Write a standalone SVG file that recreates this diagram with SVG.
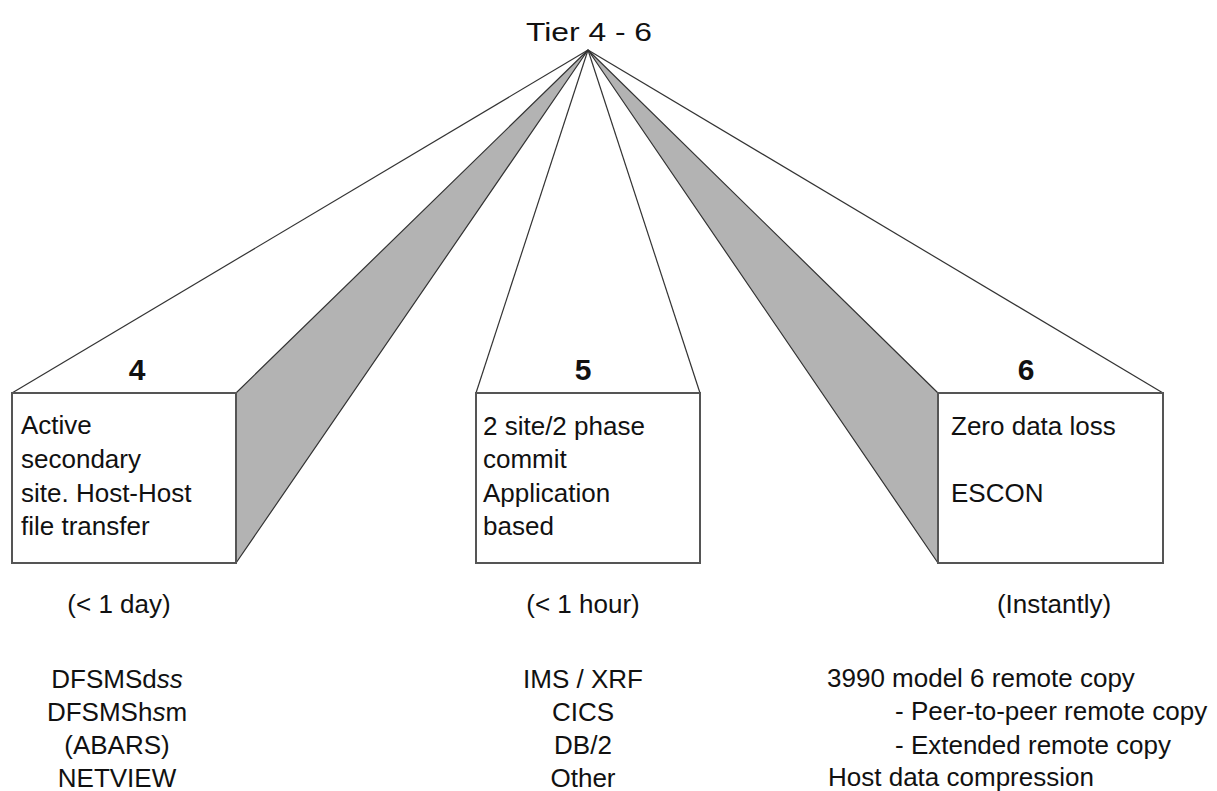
<svg xmlns="http://www.w3.org/2000/svg" width="1217" height="791" viewBox="0 0 1217 791">
<style>
.t{font-family:"Liberation Sans",Arial,sans-serif;font-size:26px;fill:#111}
.num{font-family:"Liberation Sans",Arial,sans-serif;font-size:30px;font-weight:bold;fill:#111;text-anchor:middle}
.c{text-anchor:middle}
.line{stroke:#333;stroke-width:1.2;fill:none}
.side{fill:#b3b3b3;stroke:#333;stroke-width:1.2;stroke-linejoin:round}
.box{fill:#fff;stroke:#555;stroke-width:2}
</style>
<rect width="1217" height="791" fill="#fff"/>
<g id="title">
<text class="t" x="526" y="41" font-size="37" textLength="126" lengthAdjust="spacingAndGlyphs">Tier 4 - 6</text>
</g>
<g id="connectors">
<polygon class="side" points="588,50 236,393 236,563"/>
<polygon class="side" points="588,50 938,393 938,563"/>
<line class="line" x1="588" y1="50" x2="12" y2="393"/>
<line class="line" x1="588" y1="50" x2="476" y2="393"/>
<line class="line" x1="588" y1="50" x2="700" y2="393"/>
<line class="line" x1="588" y1="50" x2="1163" y2="393"/>
</g>
<g id="tier4">
<text class="num" x="137" y="380">4</text>
<rect class="box" x="12" y="393" width="224" height="170"/>
<text class="t" x="21" y="434">Active</text>
<text class="t" x="21" y="468">secondary</text>
<text class="t" x="21" y="502">site. Host-Host</text>
<text class="t" x="21" y="535">file transfer</text>
<text class="t c" x="119" y="613">(&lt; 1 day)</text>
<text class="t c" x="117" y="688">DFSMSd<tspan font-style="italic">ss</tspan></text>
<text class="t c" x="117" y="721">DFSMSh<tspan font-style="italic">s</tspan>m</text>
<text class="t c" x="117" y="754">(ABARS)</text>
<text class="t c" x="117" y="787">NETVIEW</text>
</g>
<g id="tier5">
<text class="num" x="583" y="380">5</text>
<rect class="box" x="476" y="393" width="224" height="170"/>
<text class="t" x="483" y="435">2 site/2 phase</text>
<text class="t" x="483" y="468">commit</text>
<text class="t" x="483" y="502">Application</text>
<text class="t" x="483" y="535">based</text>
<text class="t c" x="583" y="613">(&lt; 1 hour)</text>
<text class="t c" x="583" y="688">IMS / XRF</text>
<text class="t c" x="583" y="721">CICS</text>
<text class="t c" x="583" y="754">DB/2</text>
<text class="t c" x="583" y="787">Other</text>
</g>
<g id="tier6">
<text class="num" x="1026" y="380">6</text>
<rect class="box" x="938" y="393" width="225" height="170"/>
<text class="t" x="951" y="435">Zero data loss</text>
<text class="t" x="951" y="502">ESCON</text>
<text class="t c" x="1054" y="613">(Instantly)</text>
<text class="t" x="827" y="687">3990 model 6 remote copy</text>
<text class="t" x="895" y="720">- Peer-to-peer remote copy</text>
<text class="t" x="895" y="754">- Extended remote copy</text>
<text class="t" x="828" y="786">Host data compression</text>
</g>
</svg>
